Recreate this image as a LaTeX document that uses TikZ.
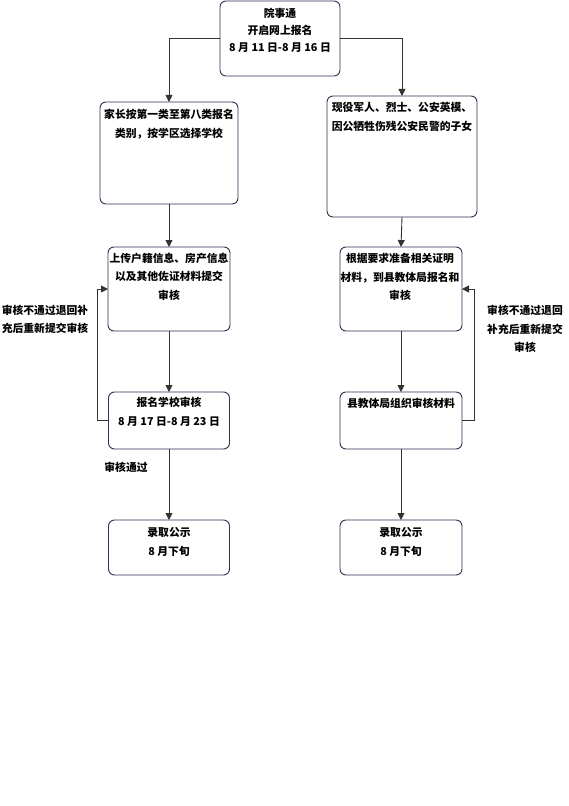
\documentclass[tikz,border=0pt]{standalone}
\usepackage{fontspec}
\setmainfont{Noto Sans CJK SC}
\usetikzlibrary{arrows.meta}
\definecolor{boxcol}{HTML}{2B3350}
\definecolor{linecol}{HTML}{333333}
\tikzset{
  box/.style={draw=boxcol, line width=0.9bp, rounded corners=6bp, inner sep=0pt, outer sep=0pt},
  txt/.style={align=center, inner sep=0pt, font=\fontsize{10.8bp}{18.5bp}\selectfont\bfseries},
  conn/.style={draw=linecol, line width=0.9bp, -{Triangle[length=7bp,width=7bp]}}
}
\begin{document}
\begin{tikzpicture}[x=1bp,y=-1bp]
\useasboundingbox (0,0) rectangle (569,806);
% boxes
\node[box, minimum width=120bp, minimum height=75bp] (top) at (280,38.5) {};
\node[box, minimum width=138bp, minimum height=102bp] (b2) at (169,153) {};
\node[box, minimum width=150bp, minimum height=121bp] (b3) at (402,156.5) {};
\node[box, minimum width=122bp, minimum height=84bp] (b4) at (169,289) {};
\node[box, minimum width=121bp, minimum height=57bp] (b5) at (169,420.5) {};
\node[box, minimum width=121bp, minimum height=55bp] (b6) at (169,547.5) {};
\node[box, minimum width=122bp, minimum height=84bp] (b7) at (401,289) {};
\node[box, minimum width=122bp, minimum height=57bp] (b8) at (401,420.5) {};
\node[box, minimum width=122bp, minimum height=55bp] (b9) at (401,547.5) {};
% texts
\node[txt, font=\fontsize{10.8bp}{17bp}\selectfont\bfseries] (ttop) at (280,30) {院事通\\开启网上报名\\8 月 11 日-8 月 16 日};
\node[txt] (t2) at (169,124) {家长按第一类至第八类报名\\类别，按学区选择学校};
\node[txt] (t3) at (402,117) {现役军人、烈士、公安英模、\\因公牺牲伤残公安民警的子女};
\node[txt] (t4) at (169,276.5) {上传户籍信息、房产信息\\以及其他佐证材料提交\\审核};
\node[txt] (t5) at (169,412) {报名学校审核\\8 月 17 日-8 月 23 日};
\node[txt] (t6) at (169,542) {录取公示\\8 月下旬};
\node[txt] (t7) at (400,277) {根据要求准备相关证明\\材料，到县教体局报名和\\审核};
\node[txt] (t8) at (401,403) {县教体局组织审核材料};
\node[txt] (t9) at (401,542) {录取公示\\8 月下旬};
\node[txt] (lleft) at (45,319.5) {审核不通过退回补\\充后重新提交审核};
\node[txt] (lright) at (525,329) {审核不通过退回\\补充后重新提交\\审核};
\node[txt] (lpass) at (126,467) {审核通过};
% connectors
\draw[conn] (top.west) -| (b2.north);
\draw[conn] (top.east) -| (b3.north);
\draw[conn] (b2.south) -- (b4.north);
\draw[conn] (b4.south) -- (b5.north);
\draw[conn] (b5.south) -- (b6.north);
\draw[conn] (b3.south) -- (b7.north);
\draw[conn] (b7.south) -- (b8.north);
\draw[conn] (b8.south) -- (b9.north);
\draw[conn] (b5.west) -- ++(-11,0) |- (b4.west);
\draw[conn] (b8.east) -- ++(12,0) |- (b7.east);
\end{tikzpicture}
\end{document}
